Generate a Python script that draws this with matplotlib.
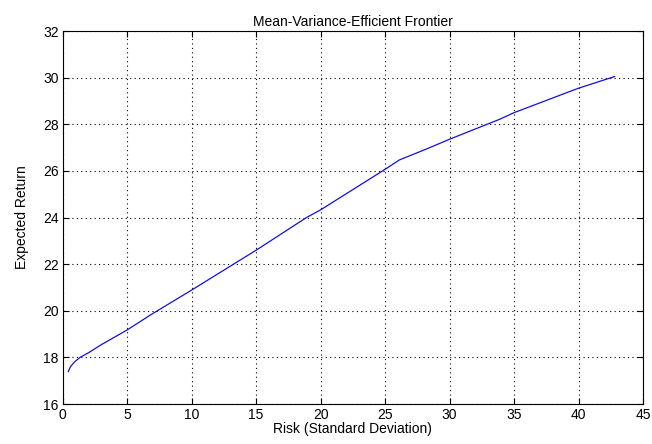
import matplotlib
matplotlib.use('Agg')
from matplotlib import pyplot as plt

# efficient frontier
risk = [0.43, 0.6, 0.9, 1.34, 2, 3, 5, 6.8, 10, 15, 18.9, 20, 25, 26.1, 28.2, 30, 33.9, 35, 40, 42.8]
ret = [17.39, 17.6, 17.8, 18.0, 18.2, 18.55, 19.18, 19.82, 20.89, 22.6, 24.0, 24.33,
       26.07, 26.47, 26.94, 27.36, 28.22, 28.5, 29.55, 30.05]

xticks = list(range(0, 46, 5))
yticks = list(range(16, 33, 2))

plt.rcParams['font.family'] = ['Liberation Sans', 'DejaVu Sans']
plt.rcParams['font.size'] = 10

fig = plt.figure(figsize=(6.52, 4.44), dpi=100)
ax = fig.add_axes([0.0962, 0.090, 0.890, 0.840])

ax.plot(risk, ret, color='#1010e0', linewidth=0.9)

ax.set_xlim(0, 45)
ax.set_ylim(16, 32)
ax.set_xticks(xticks)
ax.set_yticks(yticks)
ax.grid(True, color='black', linestyle=(0, (1, 3)), linewidth=0.8)
ax.tick_params(direction='in', top=True, right=True, length=4, pad=3)
for s in ax.spines.values():
    s.set_linewidth(0.8)

ax.set_title('Mean-Variance-Efficient Frontier', fontsize=10, pad=4)
ax.set_xlabel('Risk (Standard Deviation)', labelpad=0)
ax.set_ylabel('Expected Return', labelpad=10)

fig.savefig('out.png', dpi=100)
